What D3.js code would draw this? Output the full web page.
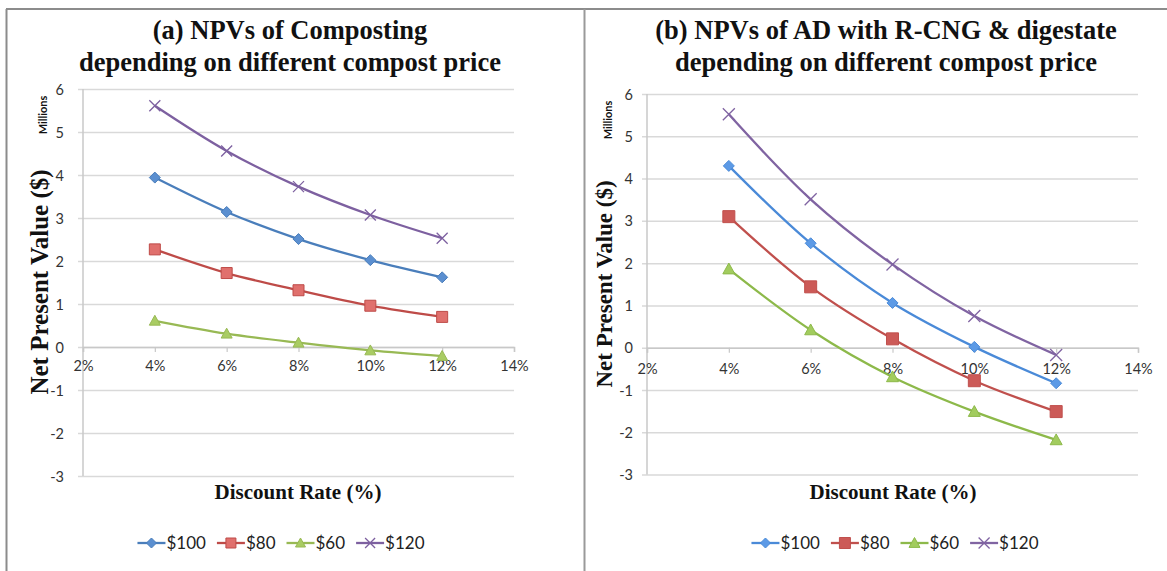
<!DOCTYPE html>
<html>
<head>
<meta charset="utf-8">
<script src="https://cdn.jsdelivr.net/npm/d3@7/dist/d3.min.js"></script>
<style>
  html, body { margin: 0; padding: 0; background: #fff; }
  svg { display: block; }
</style>
</head>
<body>
<svg id="chart" width="1167" height="571"></svg>
<script>
// Discount rates (x) and tick labels
const rates = [0.04, 0.06, 0.08, 0.10, 0.12];
const xTicks = [0.02, 0.04, 0.06, 0.08, 0.10, 0.12, 0.14];
const yTicks = [-3, -2, -1, 0, 1, 2, 3, 4, 5, 6];
const seriesNames = ["$100", "$80", "$60", "$120"];

// (a) Composting NPV, millions of dollars
const compost100 = [3.94, 3.14, 2.51, 2.02, 1.62];
const compost80  = [2.27, 1.72, 1.32, 0.96, 0.70];
const compost60  = [0.61, 0.31, 0.10, -0.08, -0.21];
const compost120 = [5.61, 4.56, 3.73, 3.07, 2.53];

// (b) AD with R-CNG & digestate NPV, millions of dollars
const ad100 = [4.30, 2.47, 1.06, 0.02, -0.84];
const ad80  = [3.10, 1.44, 0.21, -0.78, -1.51];
const ad60  = [1.86, 0.42, -0.69, -1.51, -2.18];
const ad120 = [5.52, 3.51, 1.97, 0.75, -0.17];

const svg = d3.select("#chart");

// outer frame and panel divider
svg.append("line").attr("x1", 6).attr("x2", 1167).attr("y1", 9).attr("y2", 9)
  .attr("stroke", "#8c8c8c").attr("stroke-width", 2);
svg.append("line").attr("x1", 6.5).attr("x2", 6.5).attr("y1", 9).attr("y2", 571)
  .attr("stroke", "#8c8c8c").attr("stroke-width", 2);
svg.append("line").attr("x1", 584.5).attr("x2", 584.5).attr("y1", 9).attr("y2", 571)
  .attr("stroke", "#9a9a9a").attr("stroke-width", 2);

const serif = "'Liberation Serif', 'Times New Roman', serif";
const sans = "Lato, 'Open Sans', sans-serif";

function markerPath(type, size) {
  const s = size / 2;
  if (type === "diamond") return `M0,${-s}L${s},0L0,${s}L${-s},0Z`;
  if (type === "square") return `M${-s},${-s}H${s}V${s}H${-s}Z`;
  if (type === "triangle") return `M0,${-s}L${s},${s * 0.8}L${-s},${s * 0.8}Z`;
  return `M${-s},${-s}L${s},${s}M${s},${-s}L${-s},${s}`;
}

function drawPanel(cfg) {
  const g = svg.append("g");
  const x = d3.scaleLinear().domain([0.02, 0.14]).range([cfg.left, cfg.right]);
  const y = d3.scaleLinear().domain([-3, 6]).range([cfg.bottom, cfg.top]);

  // title
  const title = g.append("text")
    .attr("x", cfg.titleX).attr("y", cfg.titleY)
    .attr("text-anchor", "middle")
    .attr("font-family", serif).attr("font-weight", "bold")
    .attr("font-size", cfg.titleSize).attr("fill", "#111");
  cfg.title.forEach((t, i) => {
    title.append("tspan").attr("x", cfg.titleX).attr("dy", i === 0 ? 0 : cfg.titleSize * 1.2).text(t);
  });

  // horizontal gridlines with small left ticks
  const yAxis = d3.axisLeft(y).tickValues(yTicks).tickSize(-(cfg.right - cfg.left + 5))
    .tickFormat(d => String(d));
  const ya = g.append("g").attr("transform", `translate(${cfg.left - 5},0)`).call(yAxis);
  ya.select(".domain").remove();
  ya.selectAll(".tick line").attr("stroke", "#d9d9d9").attr("stroke-width", 1.5);
  ya.selectAll(".tick text").attr("font-family", sans).attr("font-size", 14.5).attr("fill", "#333")
    .attr("x", cfg.yLabelX - (cfg.left - 5)).attr("dy", "0.35em");

  // vertical axis line
  g.append("line").attr("x1", cfg.left).attr("x2", cfg.left)
    .attr("y1", cfg.top).attr("y2", cfg.bottom)
    .attr("stroke", "#c8c8c8").attr("stroke-width", 1.5);

  // horizontal axis through zero
  const xAxis = d3.axisBottom(x).tickValues(xTicks).tickSize(5).tickPadding(cfg.xLabelPad)
    .tickFormat(d => Math.round(d * 100) + "%");
  const xa = g.append("g").attr("transform", `translate(0,${y(0)})`).call(xAxis);
  xa.select(".domain").attr("stroke", "#c8c8c8").attr("stroke-width", 1.5);
  xa.selectAll(".tick line").attr("stroke", "#c8c8c8").attr("stroke-width", 1.2);
  xa.selectAll(".tick text").attr("font-family", sans).attr("font-size", 14.5).attr("fill", "#333");

  // axis titles
  g.append("text").attr("x", cfg.xTitleX).attr("y", cfg.xTitleY)
    .attr("text-anchor", "middle").attr("font-family", serif).attr("font-weight", "bold")
    .attr("font-size", 21).attr("fill", "#111").text("Discount Rate (%)");
  g.append("text").attr("transform", `translate(${cfg.yTitleX},${cfg.yTitleY}) rotate(-90)`)
    .attr("text-anchor", "middle").attr("font-family", serif).attr("font-weight", "bold")
    .attr("font-size", cfg.yTitleSize).attr("fill", "#111").text("Net Present Value ($)");
  g.append("text").attr("transform", `translate(${cfg.millX},${cfg.millY}) rotate(-90)`)
    .attr("text-anchor", "middle").attr("font-family", sans).attr("font-weight", "bold")
    .attr("font-size", 11).attr("fill", "#111").text("Millions");

  const line = d3.line().x(d => x(d[0])).y(d => y(d[1])).curve(d3.curveCatmullRom.alpha(0.5));

  cfg.series.forEach(s => {
    const pts = rates.map((r, i) => [r, s.values[i]]);
    g.append("path").attr("d", line(pts)).attr("fill", "none")
      .attr("stroke", s.color).attr("stroke-width", 2.3);
    g.selectAll(null).data(pts).enter().append("path")
      .attr("transform", d => `translate(${x(d[0])},${y(d[1])})`)
      .attr("d", markerPath(s.marker, s.size))
      .attr("fill", s.marker === "x" ? "none" : s.fill)
      .attr("stroke", s.color).attr("stroke-width", s.marker === "x" ? 1.3 : 1);
  });

  // legend
  const lg = g.append("g").attr("transform", `translate(0,${cfg.legendY})`);
  const items = [];
  cfg.series.forEach(s => {
    const it = lg.append("g");
    it.append("line").attr("x1", 0).attr("x2", 28).attr("y1", 0).attr("y2", 0)
      .attr("stroke", s.color).attr("stroke-width", 2.3);
    it.append("path").attr("transform", "translate(14,0)")
      .attr("d", markerPath(s.marker, s.size - 1))
      .attr("fill", s.marker === "x" ? "none" : s.fill)
      .attr("stroke", s.color).attr("stroke-width", s.marker === "x" ? 1.3 : 1);
    const t = it.append("text").attr("x", 29).attr("y", 0).attr("dy", "0.35em")
      .attr("font-family", sans).attr("font-size", 17).attr("fill", "#222").text(s.name);
    const w = 29 + t.node().getComputedTextLength();
    items.push({ it, w });
  });
  const gap = 11;
  const total = d3.sum(items, d => d.w) + gap * (items.length - 1);
  let cx = cfg.legendX - total / 2;
  items.forEach(d => { d.it.attr("transform", `translate(${cx},0)`); cx += d.w + gap; });
}

drawPanel({
  left: 83, right: 514, top: 89, bottom: 476,
  yLabelX: 64, xLabelPad: 9,
  title: ["(a) NPVs of Composting", "depending on different compost price"],
  titleX: 290, titleY: 39, titleSize: 26.5,
  xTitleX: 298, xTitleY: 499, yTitleX: 48, yTitleY: 282, yTitleSize: 25,
  millX: 47, millY: 115,
  legendX: 281, legendY: 543,
  series: [
    { name: seriesNames[0], values: compost100, color: "#4a7ebb", fill: "#5b8fd0", marker: "diamond", size: 11 },
    { name: seriesNames[1], values: compost80, color: "#be4b48", fill: "#e0706d", marker: "square", size: 11 },
    { name: seriesNames[2], values: compost60, color: "#98b954", fill: "#a9cc63", marker: "triangle", size: 11 },
    { name: seriesNames[3], values: compost120, color: "#7d60a0", fill: "none", marker: "x", size: 11 }
  ]
});

drawPanel({
  left: 647, right: 1138, top: 94, bottom: 474.6,
  yLabelX: 633, xLabelPad: 11,
  title: ["(b) NPVs of AD with R-CNG & digestate", "depending on different compost price"],
  titleX: 886, titleY: 39, titleSize: 26.5,
  xTitleX: 893, xTitleY: 499, yTitleX: 612, yTitleY: 284, yTitleSize: 23,
  millX: 612, millY: 120,
  legendX: 895, legendY: 543,
  series: [
    { name: seriesNames[0], values: ad100, color: "#4a8ad8", fill: "#5c9ae6", marker: "diamond", size: 11 },
    { name: seriesNames[1], values: ad80, color: "#c0504d", fill: "#cc5a57", marker: "square", size: 12 },
    { name: seriesNames[2], values: ad60, color: "#8db94a", fill: "#a2cc5e", marker: "triangle", size: 12 },
    { name: seriesNames[3], values: ad120, color: "#8064a2", fill: "none", marker: "x", size: 12 }
  ]
});
</script>
</body>
</html>
